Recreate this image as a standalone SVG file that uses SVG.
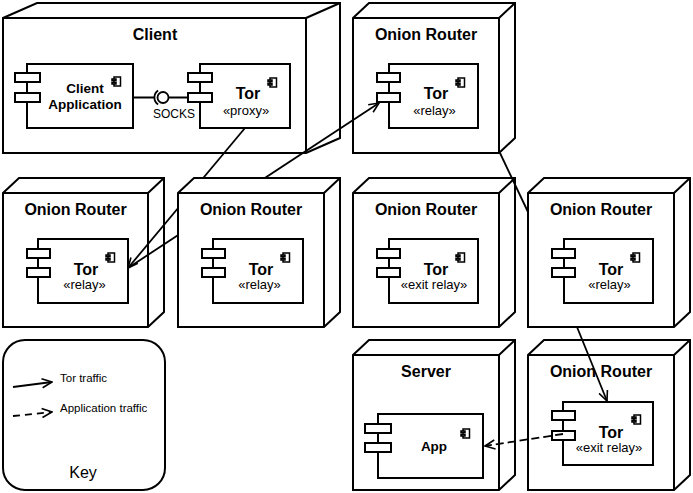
<svg xmlns="http://www.w3.org/2000/svg" width="693" height="493" viewBox="0 0 693 493">
<style>
.nd{fill:#fff;stroke:#000;stroke-width:2;stroke-linejoin:miter}
.ln{fill:none;stroke:#000;stroke-width:2}
.cp{fill:#fff;stroke:#000;stroke-width:2}
.pt{fill:#fff;stroke:#000;stroke-width:2}
.ic{fill:#fff;stroke:#000;stroke-width:1.5}
.title{font-family:"Liberation Sans",Arial,sans-serif;font-weight:bold;font-size:16px;text-anchor:middle;fill:#000}
.cn{font-family:"Liberation Sans",Arial,sans-serif;font-weight:bold;font-size:16px;text-anchor:middle;fill:#000}
.st{font-family:"Liberation Sans",Arial,sans-serif;font-size:13px;text-anchor:middle;fill:#000}
.sm{font-family:"Liberation Sans",Arial,sans-serif;font-size:11.5px;fill:#000}
.ed{fill:none;stroke:#000;stroke-width:1.8}
.dash{stroke-dasharray:8 4}
</style>
<defs>
<marker id="arr" viewBox="0 0 12 12" refX="11" refY="6" markerWidth="12" markerHeight="12" markerUnits="userSpaceOnUse" orient="auto">
<path d="M1,1.5 L11,6 L1,10.5" fill="none" stroke="#000" stroke-width="1.6"/>
</marker>
<g id="icon">
<rect class="ic" x="2" y="0" width="6.5" height="9"/>
<rect class="ic" x="0" y="2" width="4" height="1.6"/>
<rect class="ic" x="0" y="5.4" width="4" height="1.6"/>
</g>
</defs>
<rect width="693" height="493" fill="#fff"/>

<g id="client">
<path class="nd" d="M3,18 L37,3 L340,3 L340,138 L306,153 L3,153 Z"/>
<path class="ln" d="M3,18 H306 V153 M306,18 L340,3"/>
<text class="title" x="155" y="40">Client</text>
<g id="client-app">
<rect class="cp" x="27" y="64" width="106" height="64"/>
<rect class="pt" x="15" y="73" width="25" height="9"/>
<rect class="pt" x="15" y="93" width="25" height="9"/>
<use href="#icon" x="112" y="77"/>
<text class="cn" style="font-size:13.5px" x="85" y="92.5">Client</text>
<text class="cn" style="font-size:13.5px" x="85" y="109">Application</text>
</g>
<g id="client-tor">
<rect class="cp" x="200" y="64" width="90" height="64"/>
<rect class="pt" x="188" y="73" width="24" height="9"/>
<rect class="pt" x="188" y="93" width="24" height="9"/>
<use href="#icon" x="268" y="78"/>
<text class="cn" x="248" y="99">Tor</text>
<text class="st" x="246" y="114.5">«proxy»</text>
</g>
<g id="socks">
<path class="ln" d="M133,97.5 H154.5 M168.5,97.5 H188"/>
<circle cx="163" cy="97.5" r="5.5" fill="#fff" stroke="#000" stroke-width="1.8"/>
<path d="M158.1,90.5 A8.5,8.5 0 0 0 158.1,104.5" fill="none" stroke="#000" stroke-width="1.8"/>
<text class="sm" style="font-size:12px" x="174" y="118" text-anchor="middle">SOCKS</text>
</g>
</g>

<g id="or-top">
<path class="nd" d="M353,18 L369,3 L515,3 L515,138 L499,153 L353,153 Z"/>
<path class="ln" d="M353,18 H499 V153 M499,18 L515,3"/>
<text class="title" x="426" y="40">Onion Router</text>
<rect class="cp" x="389" y="64" width="89" height="64"/>
<rect class="pt" x="377" y="73" width="23" height="9"/>
<rect class="pt" x="377" y="93" width="23" height="9"/>
<use href="#icon" x="456" y="78"/>
<text class="cn" x="436" y="99">Tor</text>
<text class="st" x="434.5" y="114.5">«relay»</text>
</g>

<g id="or-1">
<path class="nd" d="M3,193 L19,178 L164,178 L164,312 L148,327 L3,327 Z"/>
<path class="ln" d="M3,193 H148 V327 M148,193 L164,178"/>
<text class="title" x="75.5" y="215">Onion Router</text>
<rect class="cp" x="38" y="239" width="90" height="64"/>
<rect class="pt" x="27" y="249" width="23" height="9"/>
<rect class="pt" x="27" y="268" width="23" height="9"/>
<use href="#icon" x="106" y="253"/>
<text class="cn" x="86" y="275">Tor</text>
<text class="st" x="84.5" y="289">«relay»</text>
</g>

<g id="or-3">
<path class="nd" d="M353,193 L369,178 L515,178 L515,312 L499,327 L353,327 Z"/>
<path class="ln" d="M353,193 H499 V327 M499,193 L515,178"/>
<text class="title" x="426" y="215">Onion Router</text>
<rect class="cp" x="389" y="239" width="89" height="64"/>
<rect class="pt" x="377" y="249" width="23" height="9"/>
<rect class="pt" x="377" y="268" width="23" height="9"/>
<use href="#icon" x="456" y="253"/>
<text class="cn" x="436" y="275">Tor</text>
<text class="st" x="434" y="289">«exit relay»</text>
</g>

<g id="server">
<path class="nd" d="M353,355 L369,340 L515,340 L515,475 L499,490 L353,490 Z"/>
<path class="ln" d="M353,355 H499 V490 M499,355 L515,340"/>
<text class="title" x="426" y="377">Server</text>
<rect class="cp" x="378" y="414" width="105" height="64"/>
<rect class="pt" x="365" y="424" width="26" height="9"/>
<rect class="pt" x="365" y="443" width="26" height="9"/>
<use href="#icon" x="461" y="429"/>
<text class="cn" style="font-size:13.5px" x="434" y="451">App</text>
</g>

<g id="or-exit">
<path class="nd" d="M528,355 L544,340 L690,340 L690,475 L674,490 L528,490 Z"/>
<path class="ln" d="M528,355 H674 V490 M674,355 L690,340"/>
<text class="title" x="601" y="377">Onion Router</text>
<rect class="cp" x="563" y="402" width="90" height="63"/>
<rect class="pt" x="552" y="411" width="23" height="9"/>
<rect class="pt" x="552" y="431" width="23" height="9"/>
<use href="#icon" x="632" y="415"/>
<text class="cn" x="611" y="438">Tor</text>
<text class="st" x="609" y="452">«exit relay»</text>
</g>

<g id="key">
<rect x="3" y="340" width="162" height="150" rx="22" ry="22" fill="#fff" stroke="#000" stroke-width="2"/>
<path class="ed" d="M13,387 L52,382" marker-end="url(#arr)"/>
<path class="ed dash" style="stroke-dasharray:7 5" d="M13,416 L52,412" marker-end="url(#arr)"/>
<text class="sm" x="60" y="382">Tor traffic</text>
<text class="sm" x="60" y="412">Application traffic</text>
<text x="83" y="478" font-family="Liberation Sans, Arial, sans-serif" font-size="16" text-anchor="middle">Key</text>
</g>

<g id="connectors">
<path class="ed" d="M245,128 L128,268" marker-end="url(#arr)"/>
<path class="ed" d="M128,268 L379,103" marker-end="url(#arr)"/>
<path class="ed" d="M500,153 L528,212"/>
<path class="ed" d="M577,327 L607,401" marker-end="url(#arr)"/>
<path class="ed dash" d="M563,434 L485,446" marker-end="url(#arr)"/>
</g>

<g id="or-2">
<path class="nd" d="M178,193 L194,178 L340,178 L340,312 L324,327 L178,327 Z"/>
<path class="ln" d="M178,193 H324 V327 M324,193 L340,178"/>
<text class="title" x="251" y="215">Onion Router</text>
<rect class="cp" x="213" y="239" width="90" height="64"/>
<rect class="pt" x="202" y="249" width="23" height="9"/>
<rect class="pt" x="202" y="268" width="23" height="9"/>
<use href="#icon" x="281" y="253"/>
<text class="cn" x="261" y="275">Tor</text>
<text class="st" x="259.5" y="289">«relay»</text>
</g>

<g id="or-4">
<path class="nd" d="M528,193 L544,178 L690,178 L690,312 L674,327 L528,327 Z"/>
<path class="ln" d="M528,193 H674 V327 M674,193 L690,178"/>
<text class="title" x="601" y="215">Onion Router</text>
<rect class="cp" x="564" y="239" width="89" height="64"/>
<rect class="pt" x="552" y="249" width="23" height="9"/>
<rect class="pt" x="552" y="268" width="23" height="9"/>
<use href="#icon" x="631" y="253"/>
<text class="cn" x="611" y="275">Tor</text>
<text class="st" x="609.5" y="289">«relay»</text>
</g>
</svg>
